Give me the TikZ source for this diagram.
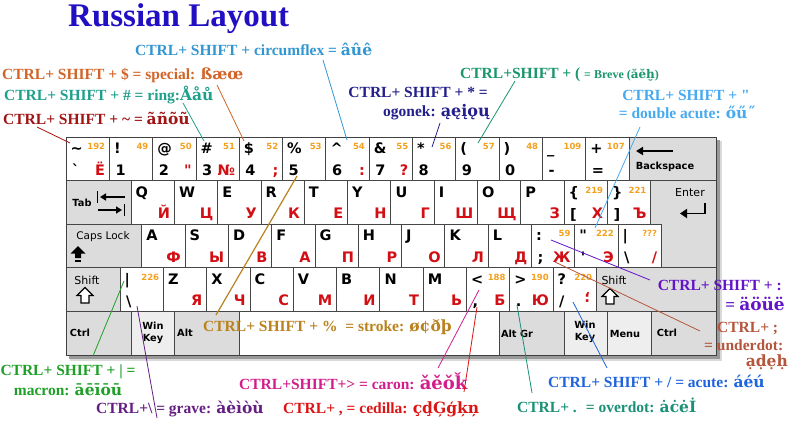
\documentclass[tikz,border=0pt]{standalone}
\usepackage{fontspec}
\newfontfamily\annfont{Liberation Serif}[Ligatures=ResetAll]
\newfontfamily\keyfont{DejaVu Sans}[Ligatures=ResetAll]
\newfontfamily\diafont{DejaVu Serif}[Ligatures=ResetAll]
\usetikzlibrary{calc,arrows.meta}
\definecolor{titlec}{RGB}{35,15,195}
\definecolor{circc}{RGB}{50,150,210}
\definecolor{specc}{RGB}{210,100,40}
\definecolor{ringc}{RGB}{30,160,140}
\definecolor{tildc}{RGB}{160,20,20}
\definecolor{ogonc}{RGB}{35,30,140}
\definecolor{brevc}{RGB}{25,150,110}
\definecolor{dblc}{RGB}{70,170,240}
\definecolor{umlc}{RGB}{100,20,200}
\definecolor{udotc}{RGB}{180,85,60}
\definecolor{strkc}{RGB}{185,130,30}
\definecolor{macrc}{RGB}{30,160,40}
\definecolor{gravc}{RGB}{100,30,130}
\definecolor{caronc}{RGB}{210,30,140}
\definecolor{cedc}{RGB}{220,20,20}
\definecolor{odotc}{RGB}{25,145,120}
\definecolor{acutc}{RGB}{30,100,220}
\definecolor{keyline}{RGB}{70,70,70}
\definecolor{keygray}{RGB}{220,220,220}
\definecolor{keylight}{RGB}{238,238,238}
\definecolor{keyorange}{RGB}{245,160,30}
\definecolor{keyred}{RGB}{210,15,20}
\newcommand{\dcr}[1]{{\diafont #1}}
\newcommand{\kk}[8]{%
  \node[keybox, minimum width=#4pt] (#1) at (#2,#3) {};
  \node[ktop] (#1-t) at ($(#1.north west)+(4.5,16.5)$) {#5};
  \node[knum] (#1-n) at ($(#1.north east)+(-4,12.5)$) {#6};
  \node[ktop] (#1-b) at ($(#1.north west)+(6,38.5)$) {#7};
  \node[kred] (#1-r) at ($(#1.north east)+(-4,38)$) {#8};
}
\tikzset{
  keybox/.style={draw=keyline, line width=0.7pt, fill=white, inner sep=0pt, outer sep=0pt, anchor=north west, minimum height=43.5pt},
  graykey/.style={keybox, fill=keygray},
  lightkey/.style={keybox, fill=keylight},
  ktop/.style={font=\keyfont\bfseries\fontsize{14.5}{15}\selectfont, inner sep=0pt, anchor=base west},
  knum/.style={font=\keyfont\bfseries\fontsize{8.5}{9}\selectfont, text=keyorange, inner sep=0pt, anchor=base east},
  kred/.style={font=\keyfont\bfseries\fontsize{14.5}{15}\selectfont, text=keyred, inner sep=0pt, anchor=base east},
  klab/.style={font=\keyfont\bfseries\fontsize{9.8}{11}\selectfont, inner sep=0pt, align=center},
  klabr/.style={font=\keyfont\fontsize{10.5}{12}\selectfont, inner sep=0pt, align=center},
  ann/.style={font=\annfont\bfseries\fontsize{15.5}{18}\selectfont, inner sep=0pt, anchor=base west},
  conn/.style={line width=0.8pt},
}
\begin{document}
\begin{tikzpicture}[x=1pt,y=-1pt]
\fill[white] (0,0) rectangle (800,447);
\useasboundingbox (0,0) rectangle (800,447);
% shadow
\fill[black!15] (70,141) rectangle (722,361);
\fill[black!40] (69,140) rectangle (720,358.5);
% row 1
\kk{k1}{66}{137}{43.3}{\textasciitilde}{192}{\textasciigrave}{Ё}
\kk{k2}{109.3}{137}{43.3}{!}{49}{1}{}
\kk{k3}{152.6}{137}{43.3}{@}{50}{2}{"}
\kk{k4}{195.9}{137}{43.3}{\#}{51}{3}{№}
\kk{k5}{239.2}{137}{43.3}{\$}{52}{4}{;}
\kk{k6}{282.5}{137}{43.3}{\%}{53}{5}{}
\kk{k7}{325.8}{137}{43.3}{\textasciicircum}{54}{6}{:}
\kk{k8}{369.1}{137}{43.3}{\&}{55}{7}{?}
\kk{k9}{412.4}{137}{43.3}{*}{56}{8}{}
\kk{k10}{455.7}{137}{43.3}{(}{57}{9}{}
\kk{k11}{499}{137}{43.3}{)}{48}{0}{}
\kk{k12}{542.3}{137}{43.3}{\_}{109}{-}{}
\kk{k13}{585.6}{137}{43.3}{+}{107}{=}{}
\node[graykey, minimum width=87.1pt] (bksp) at (628.9,137) {};
\draw[line width=1.8pt, -{Triangle[length=7pt,width=8pt]}] (673,151) -- (636,151);
\node[klab] (bksp-l) at (665,167) {Backspace};
% row 2
\node[graykey, minimum width=65pt] (tab) at (66,180.5) {};
\node[klab] (tab-l) at (82,203) {Tab};
\draw[line width=1.5pt, -{Triangle[length=6pt,width=7pt]}] (125,197) -- (100,197);
\draw[line width=1.5pt] (97.5,191) -- (97.5,203);
\draw[line width=1.5pt, -{Triangle[length=6pt,width=7pt]}] (98,210) -- (122,210);
\draw[line width=1.5pt] (124.5,204) -- (124.5,216);
\kk{kq}{131}{180.5}{43.3}{Q}{}{}{Й}
\kk{kw}{174.3}{180.5}{43.3}{W}{}{}{Ц}
\kk{ke}{217.6}{180.5}{43.3}{E}{}{}{У}
\kk{kr}{260.9}{180.5}{43.3}{R}{}{}{К}
\kk{kt}{304.2}{180.5}{43.3}{T}{}{}{Е}
\kk{ky}{347.5}{180.5}{43.3}{Y}{}{}{Н}
\kk{ku}{390.8}{180.5}{43.3}{U}{}{}{Г}
\kk{ki}{434.1}{180.5}{43.3}{I}{}{}{Ш}
\kk{ko}{477.4}{180.5}{43.3}{O}{}{}{Щ}
\kk{kp}{520.7}{180.5}{43.3}{P}{}{}{З}
\kk{klb}{564}{180.5}{43.3}{\{}{219}{[}{Х}
\kk{krb}{607.3}{180.5}{43.3}{\}}{221}{]}{Ъ}
\draw[draw=keyline, line width=0.7pt, fill=keygray] (650.6,180.5) -- (716,180.5) -- (716,267.5) -- (661.3,267.5) -- (661.3,224) -- (650.6,224) -- cycle;
\node[klabr, font=\keyfont\fontsize{11}{12}\selectfont] (enter-l) at (690,193) {Enter};
\draw[line width=1.8pt, -{Triangle[length=7pt,width=9pt]}] (705,203) -- (705,213.5) -- (680,213.5);
% row 3
\node[graykey, minimum width=75.7pt] (caps) at (66,224) {};
\node[klabr] (caps-l) at (103,237) {Caps Lock};
\fill[black] (78,246) -- (85.5,253.5) -- (81,253.5) -- (81,258) -- (75,258) -- (75,253.5) -- (70.5,253.5) -- cycle;
\fill[black] (75,259.5) rectangle (81,262);
\kk{ka}{141.7}{224}{43.3}{A}{}{}{Ф}
\kk{ks}{185}{224}{43.3}{S}{}{}{Ы}
\kk{kd}{228.3}{224}{43.3}{D}{}{}{В}
\kk{kf}{271.6}{224}{43.3}{F}{}{}{А}
\kk{kg}{314.9}{224}{43.3}{G}{}{}{П}
\kk{kh}{358.2}{224}{43.3}{H}{}{}{Р}
\kk{kj}{401.5}{224}{43.3}{J}{}{}{О}
\kk{kk}{444.8}{224}{43.3}{K}{}{}{Л}
\kk{kl}{488.1}{224}{43.3}{L}{}{}{Д}
\kk{ksc}{531.4}{224}{43.3}{:}{59}{;}{Ж}
\kk{kqt}{574.7}{224}{43.3}{"}{222}{'}{Э}
\kk{kbs}{618}{224}{43.3}{|}{???}{\textbackslash}{/}
% row 4
\node[graykey, minimum width=54pt] (lshift) at (66,267.5) {};
\node[klabr, font=\keyfont\fontsize{11}{12}\selectfont] (lshift-l) at (87,280) {Shift};
\draw[line width=1.2pt, fill=white] (85,287.5) -- (93,295.5) -- (89,295.5) -- (89,303) -- (81,303) -- (81,295.5) -- (77,295.5) -- cycle;
\kk{kpipe}{120}{267.5}{43.3}{|}{226}{\textbackslash}{}
\kk{kz}{163.3}{267.5}{43.3}{Z}{}{}{Я}
\kk{kx}{206.6}{267.5}{43.3}{X}{}{}{Ч}
\kk{kc}{249.9}{267.5}{43.3}{C}{}{}{С}
\kk{kv}{293.2}{267.5}{43.3}{V}{}{}{М}
\kk{kb}{336.5}{267.5}{43.3}{B}{}{}{И}
\kk{kn}{379.8}{267.5}{43.3}{N}{}{}{Т}
\kk{km}{423.1}{267.5}{43.3}{M}{}{}{Ь}
\kk{klt}{466.4}{267.5}{43.3}{<}{188}{,}{Б}
\kk{kgt}{509.7}{267.5}{43.3}{>}{190}{.}{Ю}
\kk{kqm}{553}{267.5}{43.3}{?}{220}{/}{}
\node[kred, anchor=center, rotate=180] (kqm-r) at ($(kqm.north east)+(-9,30)$) {;};
\node[graykey, minimum width=119.7pt] (rshift) at (596.3,267.5) {};
\node[klabr, font=\keyfont\fontsize{11}{12}\selectfont] (rshift-l) at (614,280) {Shift};
\draw[line width=1.2pt, fill=white] (610,288.5) -- (618,296.5) -- (614,296.5) -- (614,304) -- (606,304) -- (606,296.5) -- (602,296.5) -- cycle;
% row 5
\node[graykey, minimum width=65pt, minimum height=44pt] (lctrl) at (66,311) {};
\node[klab] (lctrl-l) at (80,333) {Ctrl};
\node[lightkey, minimum width=43.3pt, minimum height=44pt] (lwin) at (131,311) {};
\node[klab] (lwin-l) at (153,333) {Win\\[1pt]Key};
\node[graykey, minimum width=65pt, minimum height=44pt] (lalt) at (174.3,311) {};
\node[klab] (lalt-l) at (185,333) {Alt};
\node[keybox, minimum width=260pt, minimum height=44pt] (space) at (239.3,311) {};
\node[graykey, minimum width=65pt, minimum height=44pt] (altgr) at (499.3,311) {};
\node[klab] (altgr-l) at (517,334) {Alt Gr};
\node[lightkey, minimum width=43.4pt, minimum height=44pt] (rwin) at (564.3,311) {};
\node[klab] (rwin-l) at (585,332) {Win\\[1pt]Key};
\node[lightkey, minimum width=43.3pt, minimum height=44pt] (menu) at (607.7,311) {};
\node[klab] (menu-l) at (625,334) {Menu};
\node[graykey, minimum width=65pt, minimum height=44pt] (rctrl) at (651,311) {};
\node[klab] (rctrl-l) at (667,333) {Ctrl};
\draw[black!75, line width=1pt] (66,137) rectangle (716,355);
% title
\node[font=\annfont\bfseries\fontsize{33}{36}\selectfont, text=titlec, inner sep=0pt, anchor=base west] (title) at (68,27) {Russian Layout};
% annotations
\node[ann, text=circc] (a-circ) at (135,55) {CTRL+ SHIFT + circumflex = \dcr{âûê}};
\node[ann, text=specc] (a-spec) at (2,79) {CTRL+ SHIFT + \$ = special: \dcr{ßæœ}};
\node[ann, text=ringc] (a-ring) at (4,100.7) {CTRL+ SHIFT + \# = ring:\dcr{Ååů}};
\node[ann, text=tildc] (a-tild) at (3,124) {CTRL+ SHIFT + \textasciitilde{} = \dcr{ãñõũ}};
\node[ann, text=brevc] (a-brev) at (460,78) {CTRL+SHIFT + ( {\fontsize{12}{12}\selectfont = Breve (\dcr{ăĕḫ})}};
\node[ann, text=ogonc, anchor=base east] (a-ogon1) at (488,97) {CTRL+ SHIFT + * =};
\node[ann, text=ogonc, anchor=base east] (a-ogon2) at (490,116.7) {ogonek: \dcr{\fontsize{16}{16}\selectfont ąęįǫų}};
\node[ann, text=dblc, anchor=base] (a-dbl1) at (686,100) {CTRL+ SHIFT + "};
\node[ann, text=dblc, anchor=base] (a-dbl2) at (687,118) {= double acute: \dcr{őű˝}};
\node[ann, text=umlc, anchor=base east] (a-uml1) at (782,290.7) {CTRL+ SHIFT + :};
\node[ann, text=umlc, anchor=base east, font=\annfont\bfseries\fontsize{17}{18}\selectfont] (a-uml2) at (785,310) {= \dcr{äöüë}};
\node[ann, text=udotc] (a-udot1) at (717,332.7) {CTRL+ ;};
\node[ann, text=udotc] (a-udot2) at (704,350) {= underdot:};
\node[ann, text=udotc, anchor=base east] (a-udot3) at (788,366.7) {\dcr{ạḍẹḥ}};
\node[ann, text=strkc] (a-strk) at (203,331) {CTRL+ SHIFT + \%~ = stroke: \dcr{ø¢ðþ}};
\node[ann, text=macrc, anchor=base] (a-macr1) at (68,375) {CTRL+ SHIFT + | =};
\node[ann, text=macrc, anchor=base] (a-macr2) at (68,395) {macron: \dcr{āēīōū}};
\node[ann, text=gravc] (a-grav) at (96,413.3) {CTRL+\textbackslash{} = grave: \dcr{àèìòù}};
\node[ann, text=caronc] (a-caron) at (239,389) {CTRL+SHIFT+> = caron: \dcr{\fontsize{18}{18}\selectfont ǎěǒǩ}};
\node[ann, text=cedc] (a-ced) at (283,413) {CTRL+ , = cedilla: \dcr{çḑĢģķņ}};
\node[ann, text=acutc] (a-acut) at (548,387) {CTRL+ SHIFT + / = acute: \dcr{áéú}};
\node[ann, text=odotc] (a-odot) at (517,412.7) {CTRL+ .~ = overdot: \dcr{ȧċėİ}};
% connectors
\coordinate (c-tild-a) at (37,127);  \coordinate (c-tild-b) at (70,143);
\coordinate (c-ring-a) at (183,103); \coordinate (c-ring-b) at (204,141);
\coordinate (c-spec-a) at (217,85);  \coordinate (c-spec-b) at (244,141);
\coordinate (c-circ-a) at (323,60);  \coordinate (c-circ-b) at (347,140);
\coordinate (c-ogon-a) at (440,123); \coordinate (c-ogon-b) at (432,147);
\coordinate (c-brev-a) at (515,81);  \coordinate (c-brev-b) at (478,143);
\coordinate (c-dbl-a) at (640,127);  \coordinate (c-dbl-b) at (595,228);
\coordinate (c-uml-a) at (551,240);  \coordinate (c-uml-b) at (650,280);
\coordinate (c-udot-a) at (555,262); \coordinate (c-udot-b) at (700,331);
\coordinate (c-strk-a) at (297,176); \coordinate (c-strk-b) at (216,315);
\coordinate (c-macr-a) at (124,281); \coordinate (c-macr-b) at (93,356);
\coordinate (c-grav-a) at (137,306); \coordinate (c-grav-b) at (157,418);
\coordinate (c-caron-a) at (479,290); \coordinate (c-caron-b) at (438,368);
\coordinate (c-ced-a) at (477,307);  \coordinate (c-ced-b) at (464,392);
\coordinate (c-odot-a) at (517,305); \coordinate (c-odot-b) at (532,393);
\coordinate (c-acut-a) at (573,302); \coordinate (c-acut-b) at (607,368);
\draw[conn, tildc] (c-tild-a) -- (c-tild-b);
\draw[conn, ringc] (c-ring-a) -- (c-ring-b);
\draw[conn, specc] (c-spec-a) -- (c-spec-b);
\draw[conn, circc] (c-circ-a) -- (c-circ-b);
\draw[conn, ogonc] (c-ogon-a) -- (c-ogon-b);
\draw[conn, brevc] (c-brev-a) -- (c-brev-b);
\draw[conn, dblc] (c-dbl-a) -- (c-dbl-b);
\draw[conn, umlc] (c-uml-a) -- (c-uml-b);
\draw[conn, udotc] (c-udot-a) -- (c-udot-b);
\draw[conn, strkc, line width=1.2pt] (c-strk-a) -- (c-strk-b);
\draw[conn, macrc] (c-macr-a) -- (c-macr-b);
\draw[conn, gravc] (c-grav-a) -- (c-grav-b);
\draw[conn, caronc] (c-caron-a) -- (c-caron-b);
\draw[conn, cedc] (c-ced-a) -- (c-ced-b);
\draw[conn, odotc] (c-odot-a) -- (c-odot-b);
\draw[conn, acutc] (c-acut-a) -- (c-acut-b);
\end{tikzpicture}
\end{document}
